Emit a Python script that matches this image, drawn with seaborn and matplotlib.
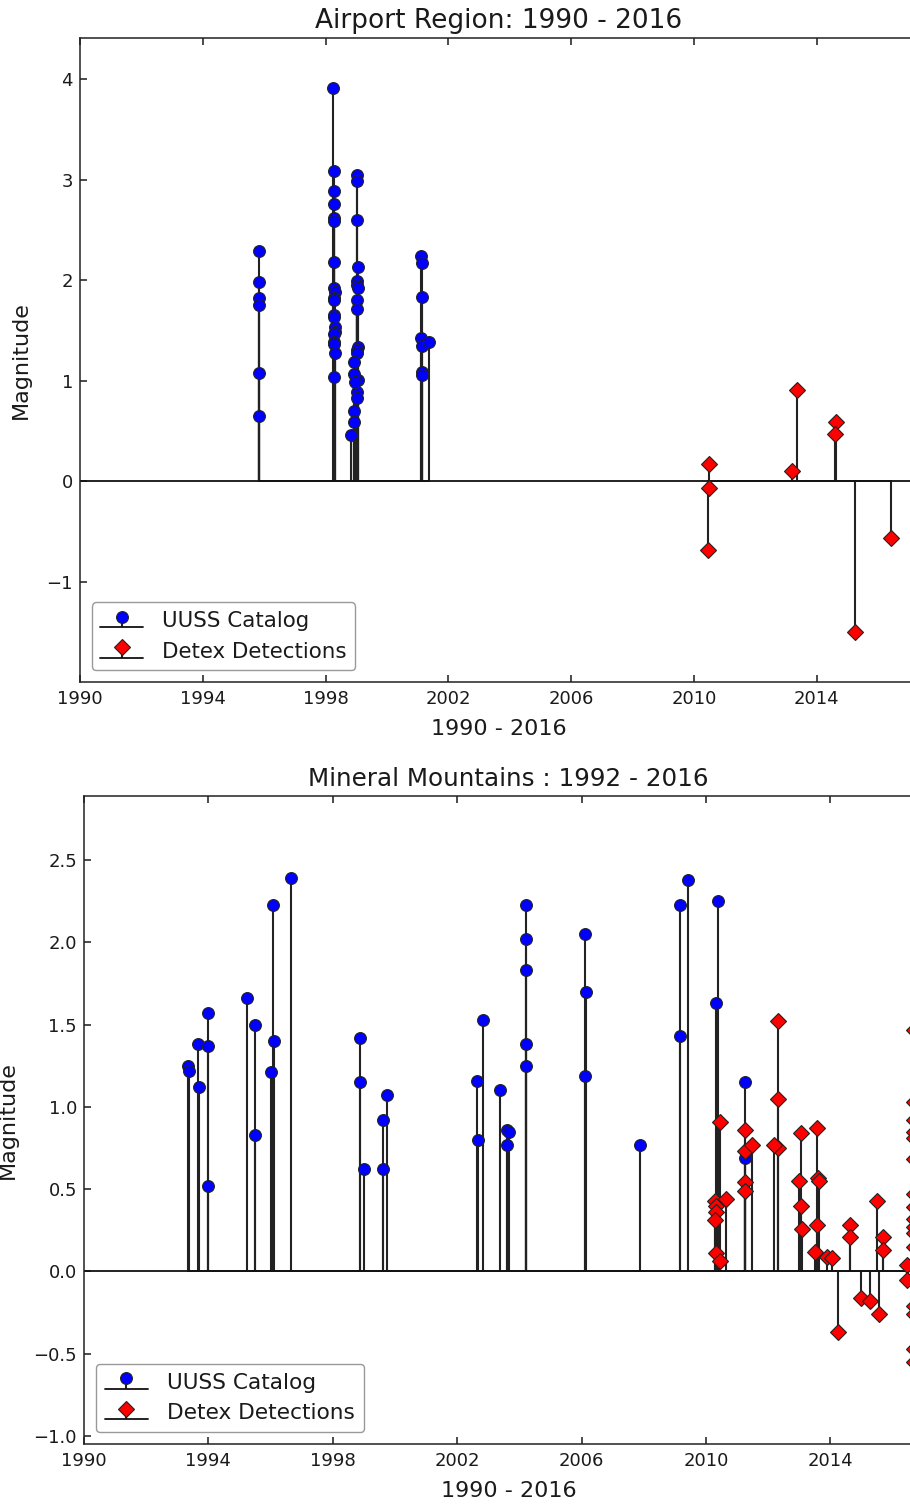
import numpy as np
import matplotlib
matplotlib.use("Agg")
import matplotlib.pyplot as plt
import seaborn as sns

# ---------------- data ----------------
# Airport Region: UUSS catalog (decimal year, magnitude)
air_uuss_t = [1995.82, 1995.83, 1995.83, 1995.84, 1995.83, 1995.82,
              1998.25, 1998.26, 1998.27, 1998.27, 1998.28, 1998.28, 1998.29, 1998.29,
              1998.30, 1998.27, 1998.28, 1998.26, 1998.29, 1998.30, 1998.31, 1998.28,
              1998.27, 1998.29, 1998.30, 1998.26,
              1999.03, 1999.04, 1999.04, 1999.05, 1999.03, 1999.04, 1999.05, 1999.03,
              1999.04, 1999.05, 1999.03, 1999.04, 1999.05, 1999.04, 1999.03,
              1998.93, 1998.94, 1998.95, 1998.93, 1998.94,
              1998.83,
              2001.12, 2001.13, 2001.14, 2001.12, 2001.13, 2001.14, 2001.13,
              2001.37]
air_uuss_m = [2.29, 1.98, 1.82, 1.75, 1.08, 0.65,
              3.91, 3.09, 2.89, 2.76, 2.62, 2.59, 2.18, 1.92,
              1.88, 1.82, 1.80, 1.65, 1.63, 1.53, 1.48, 1.46,
              1.38, 1.36, 1.27, 1.04,
              3.05, 2.99, 2.60, 2.13, 1.99, 1.95, 1.92, 1.80,
              1.71, 1.33, 1.30, 1.27, 1.01, 0.89, 0.83,
              1.19, 1.07, 0.99, 0.70, 0.59,
              0.46,
              2.24, 2.17, 1.83, 1.42, 1.34, 1.09, 1.06,
              1.38]

# Airport Region: Detex detections
air_detex_t = [2010.49, 2010.48, 2010.45, 2013.21, 2013.36, 2014.62, 2014.58,
               2015.26, 2016.41]
air_detex_m = [0.17, -0.07, -0.69, 0.10, 0.91, 0.59, 0.47, -1.50, -0.57]

# Mineral Mountains: UUSS catalog
min_uuss_t = [1993.36, 1993.37, 1993.68, 1993.69, 1993.98, 1993.99, 1993.98,
              1995.24, 1995.50, 1995.51, 1996.09, 1996.10, 1996.02, 1996.66,
              1998.86, 1998.87, 1998.99, 1999.74, 1999.60, 1999.61,
              2002.65, 2002.66, 2002.83, 2003.38, 2003.60, 2003.61, 2003.67,
              2004.21, 2004.22, 2004.21, 2004.22, 2004.21,
              2006.12, 2006.13, 2006.12, 2007.89, 2009.15, 2009.16, 2009.42,
              2010.39, 2010.32, 2011.25, 2011.26]
min_uuss_m = [1.25, 1.22, 1.38, 1.12, 1.57, 1.37, 0.52,
              1.66, 1.50, 0.83, 2.23, 1.40, 1.21, 2.39,
              1.42, 1.15, 0.62, 1.07, 0.92, 0.62,
              1.16, 0.80, 1.53, 1.10, 0.86, 0.77, 0.85,
              2.23, 2.02, 1.83, 1.38, 1.25,
              2.05, 1.70, 1.19, 0.77, 2.23, 1.43, 2.38,
              2.25, 1.63, 1.15, 0.69]

# Mineral Mountains: Detex detections
min_detex_t = [2010.46, 2010.30, 2010.31, 2010.32, 2010.30, 2010.31, 2010.46, 2010.64,
               2011.25, 2011.24, 2011.26, 2011.25, 2011.48,
               2012.31, 2012.31, 2012.30, 2012.18,
               2013.07, 2013.07, 2013.08, 2012.99,
               2013.58, 2013.59, 2013.57, 2013.63, 2013.50,
               2013.90, 2014.05, 2014.24, 2014.62, 2014.63,
               2014.99, 2015.26, 2015.50, 2015.55, 2015.68, 2015.69,
               2016.47, 2016.46,
               2016.68, 2016.69, 2016.70, 2016.68, 2016.69, 2016.70, 2016.68, 2016.69,
               2016.70, 2016.68, 2016.69, 2016.70, 2016.68, 2016.69, 2016.70, 2016.68]
min_detex_m = [0.91, 0.43, 0.40, 0.36, 0.31, 0.11, 0.06, 0.44,
               0.86, 0.73, 0.54, 0.49, 0.77,
               1.52, 1.05, 0.75, 0.77,
               0.84, 0.40, 0.26, 0.55,
               0.87, 0.57, 0.28, 0.55, 0.12,
               0.09, 0.08, -0.37, 0.28, 0.21,
               -0.16, -0.18, 0.43, -0.26, 0.21, 0.13,
               0.04, -0.05,
               1.47, 1.03, 0.92, 0.85, 0.81, 0.68, 0.47, 0.39,
               0.32, 0.27, 0.23, 0.15, -0.21, -0.26, -0.47, -0.55]

year_ticks = [1990, 1994, 1998, 2002, 2006, 2010, 2014]
air_yticks = [-1, 0, 1, 2, 3, 4]
min_yticks = [-1.0, -0.5, 0.0, 0.5, 1.0, 1.5, 2.0, 2.5]

# ---------------- style ----------------
sns.set_theme(style="ticks", rc={
    "xtick.direction": "in", "ytick.direction": "in",
    "xtick.top": True, "ytick.right": True,
    "xtick.major.size": 5, "ytick.major.size": 5,
    "axes.edgecolor": "#222222", "axes.linewidth": 1.1,
    "text.color": "#1a1a1a", "xtick.color": "#1a1a1a", "ytick.color": "#1a1a1a",
    "axes.labelcolor": "#1a1a1a",
})
plt.rcParams["font.family"] = ["DejaVu Sans"]

fig = plt.figure(figsize=(9.1, 15.04), dpi=100)
ax1 = fig.add_axes([80 / 910, 1 - 682 / 1504, (918 - 80) / 910, (682 - 38) / 1504])
ax2 = fig.add_axes([84 / 910, 1 - 1444 / 1504, (933 - 84) / 910, (1444 - 796) / 1504])


def stem_panel(ax, ut, um, dt, dm, title, yticks, fmt, title_size, leg_size):
    ax.axhline(0, color="#111111", lw=1.3, zorder=1)
    s1 = ax.stem(ut, um, linefmt="k-", markerfmt="o", basefmt="k-", label="UUSS Catalog")
    s1.markerline.set(markerfacecolor="#0000ff", markeredgecolor="#222222",
                      markersize=8.5, markeredgewidth=0.8, zorder=3)
    s1.stemlines.set(linewidth=1.5, color="#222222")
    s1.baseline.set(linewidth=1.3, color="#111111")
    s2 = ax.stem(dt, dm, linefmt="k-", markerfmt="D", basefmt="k-", label="Detex Detections")
    s2.markerline.set(markerfacecolor="#ff0000", markeredgecolor="#222222",
                      markersize=8, markeredgewidth=0.8, zorder=3)
    s2.stemlines.set(linewidth=1.5, color="#222222")
    s2.baseline.set(linewidth=1.3, color="#111111")
    ymin = min(min(um), min(dm)) - 0.5
    ymax = max(max(um), max(dm)) + 0.5
    ax.set_ylim(ymin, ymax)
    ax.set_xlim(1990, 2017.3)
    ax.set_xticks(year_ticks)
    ax.set_xticklabels([str(y) for y in year_ticks])
    ax.set_yticks(yticks)
    ax.set_yticklabels([fmt.format(v).replace("-", "\u2212") for v in yticks])
    ax.tick_params(axis="x", labelsize=13, width=1.1, pad=6)
    ax.tick_params(axis="y", labelsize=13, width=1.1, pad=5)
    ax.set_xlabel("1990 - 2016", fontsize=16, labelpad=8)
    ax.set_ylabel("Magnitude", fontsize=16, labelpad=11)
    ax.set_title(title, fontsize=title_size, pad=7)
    ax.legend(loc="lower left", fontsize=leg_size, numpoints=1, fancybox=True,
              framealpha=1, edgecolor="#999999", borderaxespad=0.55,
              handletextpad=0.9)
    for sp in ax.spines.values():
        sp.set_visible(True)


stem_panel(ax1, air_uuss_t, air_uuss_m, air_detex_t, air_detex_m,
           "Airport Region: 1990 - 2016", air_yticks, "{:d}", 19, 15.4)
stem_panel(ax2, min_uuss_t, min_uuss_m, min_detex_t, min_detex_m,
           "Mineral Mountains : 1992 - 2016", min_yticks, "{:.1f}", 17.7, 15.6)

fig.savefig("out.png", dpi=100)
